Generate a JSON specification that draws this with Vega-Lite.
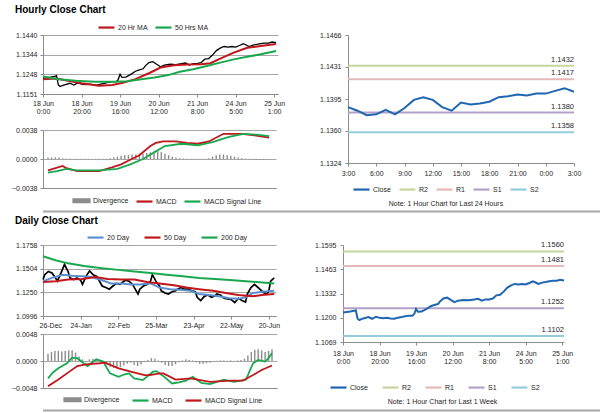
{
"$schema": "https://vega.github.io/schema/vega-lite/v6.json",
"padding": {"left": 0, "top": 5, "right": 5, "bottom": 0},
"config": {
  "font": "Liberation Sans",
  "view": {"stroke": null},
  "axis": {"labelFontSize": 7, "labelColor": "#262626", "domainColor": "#8c8c8c", "tickColor": "#8c8c8c", "tickSize": 3, "labelPadding": 2, "gridColor": "#a6a6a6", "labelFlush": false, "labelOverlap": false, "tickCount": 30},
  "legend": {"orient": "none", "direction": "horizontal", "labelFontSize": 7, "labelColor": "#262626", "symbolType": "stroke", "symbolSize": 256, "symbolStrokeWidth": 2.2, "columnPadding": 8, "labelOffset": 2, "padding": 0},
  "title": {"font": "Liberation Sans", "color": "#000000"}
},
"datasets": {
  "hclose": [
    {"i":0,"v":1.1229},{"i":2,"v":1.1232},{"i":4,"v":1.1234},{"i":6,"v":1.1238},{"i":7,"v":1.1241},{"i":8,"v":1.1195},{"i":9,"v":1.1188},{"i":10,"v":1.1193},{"i":12,"v":1.1199},{"i":14,"v":1.1204},{"i":16,"v":1.1195},{"i":18,"v":1.1206},{"i":20,"v":1.1200},{"i":22,"v":1.1198},{"i":24,"v":1.1200},{"i":26,"v":1.1197},{"i":28,"v":1.1195},{"i":30,"v":1.1200},{"i":32,"v":1.1204},{"i":34,"v":1.1209},{"i":36,"v":1.1212},{"i":38,"v":1.1212},{"i":39,"v":1.1221},{"i":40,"v":1.1248},{"i":41,"v":1.1233},{"i":43,"v":1.1234},{"i":46,"v":1.1250},{"i":48,"v":1.1263},{"i":50,"v":1.1270},{"i":52,"v":1.1275},{"i":53,"v":1.1288},{"i":55,"v":1.1305},{"i":57,"v":1.1310},{"i":59,"v":1.1297},{"i":61,"v":1.1285},{"i":63,"v":1.1293},{"i":66,"v":1.1297},{"i":69,"v":1.1295},{"i":72,"v":1.1300},{"i":74,"v":1.1303},{"i":76,"v":1.1293},{"i":78,"v":1.1300},{"i":80,"v":1.1300},{"i":82,"v":1.1305},{"i":84,"v":1.1322},{"i":86,"v":1.1325},{"i":88,"v":1.1342},{"i":90,"v":1.1364},{"i":92,"v":1.1376},{"i":94,"v":1.1384},{"i":96,"v":1.1381},{"i":98,"v":1.1384},{"i":100,"v":1.1381},{"i":102,"v":1.1389},{"i":104,"v":1.1398},{"i":106,"v":1.1389},{"i":107,"v":1.1384},{"i":109,"v":1.1391},{"i":111,"v":1.1394},{"i":113,"v":1.1398},{"i":115,"v":1.1401},{"i":117,"v":1.1401},{"i":119,"v":1.1406},{"i":121,"v":1.1403}
  ],
  "hma": [
    {"s":"20 Hr MA","i":0,"v":1.1224},{"s":"20 Hr MA","i":7,"v":1.1227},{"s":"20 Hr MA","i":13,"v":1.1216},{"s":"20 Hr MA","i":20,"v":1.1204},{"s":"20 Hr MA","i":29,"v":1.1192},{"s":"20 Hr MA","i":36,"v":1.1195},{"s":"20 Hr MA","i":42,"v":1.1208},{"s":"20 Hr MA","i":48,"v":1.1224},{"s":"20 Hr MA","i":55,"v":1.1253},{"s":"20 Hr MA","i":61,"v":1.1281},{"s":"20 Hr MA","i":68,"v":1.1292},{"s":"20 Hr MA","i":75,"v":1.1296},{"s":"20 Hr MA","i":82,"v":1.1297},{"s":"20 Hr MA","i":87,"v":1.1302},{"s":"20 Hr MA","i":92,"v":1.1325},{"s":"20 Hr MA","i":99,"v":1.1354},{"s":"20 Hr MA","i":106,"v":1.1378},{"s":"20 Hr MA","i":113,"v":1.1386},{"s":"20 Hr MA","i":121,"v":1.1396},
    {"s":"50 Hrs MA","i":0,"v":1.1237},{"s":"50 Hrs MA","i":8,"v":1.1224},{"s":"50 Hrs MA","i":17,"v":1.1216},{"s":"50 Hrs MA","i":27,"v":1.1211},{"s":"50 Hrs MA","i":37,"v":1.1211},{"s":"50 Hrs MA","i":44,"v":1.1214},{"s":"50 Hrs MA","i":51,"v":1.1224},{"s":"50 Hrs MA","i":58,"v":1.1232},{"s":"50 Hrs MA","i":65,"v":1.1244},{"s":"50 Hrs MA","i":71,"v":1.1260},{"s":"50 Hrs MA","i":78,"v":1.1273},{"s":"50 Hrs MA","i":85,"v":1.1289},{"s":"50 Hrs MA","i":92,"v":1.1305},{"s":"50 Hrs MA","i":99,"v":1.1321},{"s":"50 Hrs MA","i":106,"v":1.1334},{"s":"50 Hrs MA","i":113,"v":1.1346},{"s":"50 Hrs MA","i":121,"v":1.1362}
  ],
  "hmacd": [
    {"s":"MACD","i":0,"v":-0.0015},{"s":"MACD","i":8,"v":-0.0009},{"s":"MACD","i":10,"v":-0.0012},{"s":"MACD","i":16,"v":-0.0016},{"s":"MACD","i":22,"v":-0.0016},{"s":"MACD","i":28,"v":-0.0016},{"s":"MACD","i":35,"v":-0.0011},{"s":"MACD","i":40,"v":-0.0007},{"s":"MACD","i":45,"v":-0.0001},{"s":"MACD","i":50,"v":0.0005},{"s":"MACD","i":56,"v":0.0017},{"s":"MACD","i":59,"v":0.0021},{"s":"MACD","i":63,"v":0.0023},{"s":"MACD","i":70,"v":0.0023},{"s":"MACD","i":76,"v":0.0021},{"s":"MACD","i":82,"v":0.0020},{"s":"MACD","i":88,"v":0.0023},{"s":"MACD","i":96,"v":0.0033},{"s":"MACD","i":106,"v":0.0033},{"s":"MACD","i":113,"v":0.0031},{"s":"MACD","i":121,"v":0.0028},
    {"s":"MACD Signal Line","i":0,"v":-0.0018},{"s":"MACD Signal Line","i":5,"v":-0.0016},{"s":"MACD Signal Line","i":10,"v":-0.0013},{"s":"MACD Signal Line","i":16,"v":-0.0015},{"s":"MACD Signal Line","i":28,"v":-0.0015},{"s":"MACD Signal Line","i":38,"v":-0.0013},{"s":"MACD Signal Line","i":45,"v":-0.0007},{"s":"MACD Signal Line","i":52,"v":0.0000},{"s":"MACD Signal Line","i":59,"v":0.0010},{"s":"MACD Signal Line","i":64,"v":0.0017},{"s":"MACD Signal Line","i":73,"v":0.0020},{"s":"MACD Signal Line","i":82,"v":0.0018},{"s":"MACD Signal Line","i":90,"v":0.0022},{"s":"MACD Signal Line","i":99,"v":0.0029},{"s":"MACD Signal Line","i":107,"v":0.0033},{"s":"MACD Signal Line","i":114,"v":0.0032},{"s":"MACD Signal Line","i":121,"v":0.0030}
  ],
  "hdiv": [
    {"i":0,"v":0.0002},{"i":2,"v":0.0002},{"i":4,"v":0.0002},{"i":6,"v":0.0002},{"i":8,"v":0.0001},{"i":10,"v":0.00005},{"i":12,"v":0.00003},{"i":14,"v":0.00003},{"i":16,"v":0.00003},{"i":18,"v":0.00003},{"i":20,"v":0.00003},{"i":22,"v":0.00003},{"i":24,"v":0.00003},{"i":26,"v":0.00003},{"i":28,"v":0.00003},{"i":30,"v":0.00003},{"i":32,"v":0.00003},{"i":34,"v":0.0001},{"i":36,"v":0.0002},{"i":38,"v":0.0003},{"i":40,"v":0.0004},{"i":42,"v":0.0005},{"i":44,"v":0.0005},{"i":46,"v":0.0006},{"i":48,"v":0.0006},{"i":50,"v":0.0007},{"i":52,"v":0.0007},{"i":54,"v":0.0008},{"i":56,"v":0.0009},{"i":58,"v":0.0010},{"i":60,"v":0.0010},{"i":62,"v":0.0009},{"i":64,"v":0.0007},{"i":66,"v":0.0005},{"i":68,"v":0.0003},{"i":70,"v":0.0002},{"i":72,"v":0.0001},{"i":74,"v":0.00005},{"i":76,"v":0.00003},{"i":78,"v":0.00003},{"i":80,"v":0.00003},{"i":82,"v":0.00003},{"i":84,"v":0.00003},{"i":86,"v":0.00003},{"i":88,"v":0.0001},{"i":90,"v":0.0003},{"i":92,"v":0.0005},{"i":94,"v":0.0006},{"i":96,"v":0.0006},{"i":98,"v":0.0005},{"i":100,"v":0.0004},{"i":102,"v":0.0003},{"i":104,"v":0.0002},{"i":106,"v":0.0001},{"i":108,"v":0.00005},{"i":110,"v":0.00003},{"i":112,"v":-0.00005},{"i":114,"v":-0.0001},{"i":116,"v":-0.0001},{"i":118,"v":-0.0001},{"i":120,"v":-0.0001}
  ],
  "r24": [
    {"h":0,"v":1.1386},{"h":1,"v":1.1382},{"h":2,"v":1.1377},{"h":3,"v":1.1378},{"h":4,"v":1.1383},{"h":5,"v":1.1378},{"h":6,"v":1.1385},{"h":7,"v":1.1394},{"h":8,"v":1.1397},{"h":9,"v":1.1394},{"h":10,"v":1.1386},{"h":11,"v":1.1382},{"h":12,"v":1.1391},{"h":13,"v":1.1389},{"h":14,"v":1.1390},{"h":15,"v":1.1392},{"h":16,"v":1.1397},{"h":17,"v":1.1398},{"h":18,"v":1.1400},{"h":19,"v":1.1399},{"h":20,"v":1.1401},{"h":21,"v":1.1401},{"h":22,"v":1.1404},{"h":23,"v":1.1407},{"h":24,"v":1.1403}
  ],
  "lv24": [
    {"s":"R2","v":1.1432},{"s":"R1","v":1.1417},{"s":"S1","v":1.1380},{"s":"S2","v":1.1358}
  ],
  "lvw": [
    {"s":"R2","v":1.1560},{"s":"R1","v":1.1481},{"s":"S1","v":1.1252},{"s":"S2","v":1.1102}
  ],
  "dclose": [
    {"i":0,"v":1.1388},{"i":1,"v":1.1439},{"i":3,"v":1.1474},{"i":5,"v":1.1457},{"i":7,"v":1.1405},{"i":8,"v":1.1370},{"i":10,"v":1.1457},{"i":12,"v":1.1550},{"i":13,"v":1.1509},{"i":14,"v":1.1474},{"i":15,"v":1.1405},{"i":17,"v":1.1388},{"i":19,"v":1.1405},{"i":21,"v":1.1380},{"i":22,"v":1.1335},{"i":24,"v":1.1422},{"i":26,"v":1.1480},{"i":28,"v":1.1439},{"i":30,"v":1.1422},{"i":32,"v":1.1353},{"i":33,"v":1.1318},{"i":35,"v":1.1301},{"i":37,"v":1.1284},{"i":39,"v":1.1318},{"i":41,"v":1.1346},{"i":43,"v":1.1335},{"i":44,"v":1.1353},{"i":46,"v":1.1380},{"i":48,"v":1.1370},{"i":50,"v":1.1335},{"i":52,"v":1.1266},{"i":53,"v":1.1232},{"i":54,"v":1.1284},{"i":56,"v":1.1318},{"i":58,"v":1.1335},{"i":60,"v":1.1370},{"i":61,"v":1.1440},{"i":63,"v":1.1370},{"i":65,"v":1.1318},{"i":66,"v":1.1266},{"i":68,"v":1.1242},{"i":70,"v":1.1232},{"i":72,"v":1.1256},{"i":74,"v":1.1266},{"i":75,"v":1.1284},{"i":77,"v":1.1301},{"i":79,"v":1.1284},{"i":81,"v":1.1284},{"i":83,"v":1.1266},{"i":85,"v":1.1256},{"i":86,"v":1.1197},{"i":88,"v":1.1162},{"i":90,"v":1.1207},{"i":92,"v":1.1221},{"i":94,"v":1.1197},{"i":96,"v":1.1214},{"i":97,"v":1.1232},{"i":99,"v":1.1221},{"i":101,"v":1.1186},{"i":103,"v":1.1180},{"i":105,"v":1.1173},{"i":107,"v":1.1140},{"i":108,"v":1.1162},{"i":109,"v":1.1186},{"i":111,"v":1.1162},{"i":113,"v":1.1145},{"i":114,"v":1.1232},{"i":116,"v":1.1301},{"i":118,"v":1.1335},{"i":119,"v":1.1318},{"i":121,"v":1.1284},{"i":123,"v":1.1249},{"i":125,"v":1.1232},{"i":126,"v":1.1266},{"i":127,"v":1.1370},{"i":129,"v":1.1405}
  ],
  "dma": [
    {"s":"20 Day","i":0,"v":1.1370},{"s":"20 Day","i":5,"v":1.1405},{"s":"20 Day","i":11,"v":1.1439},{"s":"20 Day","i":16,"v":1.1429},{"s":"20 Day","i":22,"v":1.1422},{"s":"20 Day","i":27,"v":1.1415},{"s":"20 Day","i":33,"v":1.1380},{"s":"20 Day","i":38,"v":1.1346},{"s":"20 Day","i":44,"v":1.1346},{"s":"20 Day","i":49,"v":1.1335},{"s":"20 Day","i":54,"v":1.1335},{"s":"20 Day","i":60,"v":1.1346},{"s":"20 Day","i":65,"v":1.1301},{"s":"20 Day","i":71,"v":1.1284},{"s":"20 Day","i":76,"v":1.1277},{"s":"20 Day","i":82,"v":1.1266},{"s":"20 Day","i":87,"v":1.1232},{"s":"20 Day","i":93,"v":1.1221},{"s":"20 Day","i":98,"v":1.1207},{"s":"20 Day","i":104,"v":1.1186},{"s":"20 Day","i":109,"v":1.1180},{"s":"20 Day","i":113,"v":1.1197},{"s":"20 Day","i":117,"v":1.1242},{"s":"20 Day","i":122,"v":1.1256},{"s":"20 Day","i":129,"v":1.1266},
    {"s":"50 Day","i":0,"v":1.1360},{"s":"50 Day","i":7,"v":1.1370},{"s":"50 Day","i":14,"v":1.1388},{"s":"50 Day","i":22,"v":1.1394},{"s":"50 Day","i":29,"v":1.1415},{"s":"50 Day","i":36,"v":1.1394},{"s":"50 Day","i":44,"v":1.1388},{"s":"50 Day","i":51,"v":1.1388},{"s":"50 Day","i":58,"v":1.1360},{"s":"50 Day","i":65,"v":1.1346},{"s":"50 Day","i":73,"v":1.1325},{"s":"50 Day","i":80,"v":1.1301},{"s":"50 Day","i":87,"v":1.1284},{"s":"50 Day","i":95,"v":1.1266},{"s":"50 Day","i":102,"v":1.1242},{"s":"50 Day","i":109,"v":1.1221},{"s":"50 Day","i":117,"v":1.1207},{"s":"50 Day","i":122,"v":1.1221},{"s":"50 Day","i":129,"v":1.1232},
    {"s":"200 Day","i":0,"v":1.1637},{"s":"200 Day","i":7,"v":1.1595},{"s":"200 Day","i":14,"v":1.1561},{"s":"200 Day","i":23,"v":1.1533},{"s":"200 Day","i":33,"v":1.1509},{"s":"200 Day","i":42,"v":1.1491},{"s":"200 Day","i":51,"v":1.1474},{"s":"200 Day","i":60,"v":1.1457},{"s":"200 Day","i":69,"v":1.1439},{"s":"200 Day","i":78,"v":1.1422},{"s":"200 Day","i":87,"v":1.1405},{"s":"200 Day","i":96,"v":1.1394},{"s":"200 Day","i":106,"v":1.1380},{"s":"200 Day","i":115,"v":1.1367},{"s":"200 Day","i":124,"v":1.1353},{"s":"200 Day","i":129,"v":1.1346}
  ],
  "dmacd": [
    {"s":"MACD","i":0,"v":-0.0031},{"s":"MACD","i":3,"v":-0.0020},{"s":"MACD","i":6,"v":-0.0013},{"s":"MACD","i":11,"v":-0.0004},{"s":"MACD","i":14,"v":0.0006},{"s":"MACD","i":17,"v":0.0005},{"s":"MACD","i":21,"v":-0.0005},{"s":"MACD","i":23,"v":-0.0009},{"s":"MACD","i":28,"v":0.0003},{"s":"MACD","i":32,"v":-0.0001},{"s":"MACD","i":36,"v":-0.0022},{"s":"MACD","i":41,"v":-0.0028},{"s":"MACD","i":44,"v":-0.0024},{"s":"MACD","i":47,"v":-0.0022},{"s":"MACD","i":50,"v":-0.0031},{"s":"MACD","i":55,"v":-0.0034},{"s":"MACD","i":59,"v":-0.0024},{"s":"MACD","i":61,"v":-0.0019},{"s":"MACD","i":63,"v":-0.0018},{"s":"MACD","i":67,"v":-0.0027},{"s":"MACD","i":72,"v":-0.0040},{"s":"MACD","i":76,"v":-0.0038},{"s":"MACD","i":80,"v":-0.0035},{"s":"MACD","i":84,"v":-0.0028},{"s":"MACD","i":89,"v":-0.0039},{"s":"MACD","i":94,"v":-0.0041},{"s":"MACD","i":98,"v":-0.0037},{"s":"MACD","i":102,"v":-0.0033},{"s":"MACD","i":108,"v":-0.0037},{"s":"MACD","i":112,"v":-0.0035},{"s":"MACD","i":115,"v":-0.0033},{"s":"MACD","i":117,"v":-0.0018},{"s":"MACD","i":119,"v":-0.0004},{"s":"MACD","i":122,"v":0.0002},{"s":"MACD","i":126,"v":-0.0001},{"s":"MACD","i":128,"v":0.0005},{"s":"MACD","i":130,"v":0.0014},
    {"s":"MACD Signal Line","i":0,"v":-0.0045},{"s":"MACD Signal Line","i":6,"v":-0.0033},{"s":"MACD Signal Line","i":11,"v":-0.0022},{"s":"MACD Signal Line","i":17,"v":-0.0009},{"s":"MACD Signal Line","i":22,"v":-0.0006},{"s":"MACD Signal Line","i":30,"v":-0.0004},{"s":"MACD Signal Line","i":33,"v":-0.0003},{"s":"MACD Signal Line","i":41,"v":-0.0013},{"s":"MACD Signal Line","i":48,"v":-0.0019},{"s":"MACD Signal Line","i":56,"v":-0.0025},{"s":"MACD Signal Line","i":59,"v":-0.0025},{"s":"MACD Signal Line","i":65,"v":-0.0022},{"s":"MACD Signal Line","i":67,"v":-0.0022},{"s":"MACD Signal Line","i":74,"v":-0.0033},{"s":"MACD Signal Line","i":83,"v":-0.0031},{"s":"MACD Signal Line","i":94,"v":-0.0037},{"s":"MACD Signal Line","i":106,"v":-0.0035},{"s":"MACD Signal Line","i":113,"v":-0.0035},{"s":"MACD Signal Line","i":119,"v":-0.0025},{"s":"MACD Signal Line","i":124,"v":-0.0016},{"s":"MACD Signal Line","i":130,"v":-0.0008}
  ],
  "ddiv": [
    {"i":0,"v":0.0013},{"i":2,"v":0.0016},{"i":4,"v":0.0018},{"i":6,"v":0.0018},{"i":8,"v":0.0017},{"i":10,"v":0.0018},{"i":12,"v":0.0019},{"i":14,"v":0.0019},{"i":16,"v":0.0015},{"i":18,"v":0.0008},{"i":20,"v":0.0003},{"i":22,"v":-0.0002},{"i":24,"v":0.0003},{"i":26,"v":0.0004},{"i":28,"v":0.0003},{"i":30,"v":0.00003},{"i":32,"v":-0.0003},{"i":34,"v":-0.0006},{"i":36,"v":-0.0010},{"i":38,"v":-0.0012},{"i":40,"v":-0.0013},{"i":42,"v":-0.0011},{"i":44,"v":-0.0008},{"i":46,"v":-0.0005},{"i":48,"v":-0.0003},{"i":50,"v":-0.0007},{"i":52,"v":-0.0009},{"i":54,"v":-0.0006},{"i":56,"v":-0.0002},{"i":58,"v":0.0002},{"i":60,"v":0.0005},{"i":62,"v":0.0004},{"i":64,"v":0.0001},{"i":66,"v":-0.0003},{"i":68,"v":-0.0007},{"i":70,"v":-0.0009},{"i":72,"v":-0.0009},{"i":74,"v":-0.0006},{"i":76,"v":-0.0002},{"i":78,"v":0.0001},{"i":80,"v":0.0003},{"i":82,"v":0.0002},{"i":84,"v":0.0001},{"i":86,"v":-0.0002},{"i":88,"v":-0.0005},{"i":90,"v":-0.0005},{"i":92,"v":-0.0004},{"i":94,"v":-0.0003},{"i":96,"v":-0.0001},{"i":98,"v":0.00005},{"i":100,"v":0.0001},{"i":102,"v":0.0001},{"i":104,"v":0.00005},{"i":106,"v":0.0001},{"i":108,"v":0.00003},{"i":110,"v":0.0001},{"i":112,"v":0.0002},{"i":114,"v":0.0004},{"i":116,"v":0.0010},{"i":118,"v":0.0016},{"i":120,"v":0.0020},{"i":122,"v":0.0021},{"i":124,"v":0.0019},{"i":126,"v":0.0016},{"i":128,"v":0.0018},{"i":130,"v":0.0021}
  ],
  "sep": [{"k":"line"}]
},
"spacing": 3,
"resolve": {"scale": {"color": "independent"}, "legend": {"color": "independent"}},
"vconcat": [
  {
    "title": {"text": "Hourly Close Chart", "anchor": "start", "dx": 15, "fontSize": 10, "fontWeight": "bold", "offset": 3},
    "spacing": 33,
    "resolve": {"scale": {"color": "independent"}, "legend": {"color": "independent"}},
    "hconcat": [
      {
        "spacing": 12,
        "resolve": {"scale": {"color": "independent"}, "legend": {"color": "independent"}},
        "vconcat": [
          {
            "width": 235, "height": 59,
            "layer": [
              {"data": {"name": "hclose"}, "mark": {"type": "line", "color": "#000000", "strokeWidth": 1.3},
               "encoding": {
                 "x": {"field": "i", "type": "quantitative", "scale": {"domain": [0, 122], "nice": false, "zero": false},
                       "axis": {"title": null, "values": [0,20,40,60,80,100,120], "tickCount": 30, "labelExpr": "[['18 Jun','0:00'],['18 Jun','20:00'],['19 Jun','16:00'],['20 Jun','12:00'],['21 Jun','8:00'],['24 Jun','5:00'],['25 Jun','1:00']][round(datum.value/20)]", "labelLineHeight": 8, "grid": false, "labelOverlap": false}},
                 "y": {"field": "v", "type": "quantitative", "scale": {"domain": [1.11514, 1.14404], "nice": false, "zero": false},
                       "axis": {"title": null, "values": [1.11514,1.12477,1.13441,1.14404], "tickCount": 30, "format": ".4f", "grid": true, "minExtent": 41, "labelPadding": 3, "labelOverlap": false}}}},
              {"data": {"name": "hma"}, "mark": {"type": "line", "strokeWidth": 2},
               "encoding": {
                 "x": {"field": "i", "type": "quantitative"},
                 "y": {"field": "v", "type": "quantitative"},
                 "color": {"field": "s", "type": "nominal", "scale": {"domain": ["20 Hr MA","50 Hrs MA"], "range": ["#c0161c","#1aa84f"]},
                           "legend": {"title": null, "orient": "none", "legendX": 54, "legendY": -17, "columnPadding": 3}}}}
            ]
          },
          {
            "width": 233, "height": 58,
            "layer": [
              {"data": {"name": "hdiv"}, "mark": {"type": "bar", "size": 1.4, "color": "#8c8c8c"},
               "encoding": {
                 "x": {"field": "i", "type": "quantitative", "scale": {"domain": [0, 122], "nice": false, "zero": false},
                       "axis": {"title": null, "labels": false, "ticks": false, "grid": false}},
                 "y": {"field": "v", "type": "quantitative", "scale": {"domain": [-0.0038, 0.0038], "nice": false},
                       "axis": {"title": null, "values": [-0.0038, 0, 0.0038], "tickCount": 30, "format": ".4f", "grid": true, "minExtent": 43, "labelPadding": 3, "labelOverlap": false}}}},
              {"data": {"name": "hmacd"}, "mark": {"type": "line", "strokeWidth": 1.8},
               "encoding": {
                 "x": {"field": "i", "type": "quantitative"},
                 "y": {"field": "v", "type": "quantitative"},
                 "color": {"field": "s", "type": "nominal", "scale": {"domain": ["Divergence","MACD","MACD Signal Line"], "range": ["#8c8c8c","#c0161c","#1aa84f"]},
                           "legend": {"title": null, "orient": "none", "legendX": 29, "legendY": 61, "columnPadding": 3,
                                      "encode": {"symbols": {"update": {"shape": {"signal": "datum.label === 'Divergence' ? 'M-1,-0.18H1V0.18H-1Z' : 'stroke'"}, "fill": {"signal": "datum.label === 'Divergence' ? '#8c8c8c' : 'transparent'"}}}}}}}}
            ]
          }
        ]
      },
      {
        "width": 226, "height": 128,
        "title": {"text": "Note: 1 Hour Chart for Last 24 Hours", "orient": "bottom", "anchor": "middle", "frame": "group", "fontSize": 7, "fontWeight": "normal", "color": "#262626", "offset": 6, "dx": -15},
        "layer": [
          {"data": {"name": "lv24"}, "mark": {"type": "rule", "strokeWidth": 2},
           "encoding": {
             "y": {"field": "v", "type": "quantitative", "scale": {"domain": [1.1324, 1.1466], "nice": false, "zero": false},
                   "axis": {"title": null, "values": [1.1324,1.13596,1.1395,1.14306,1.1466], "tickCount": 30, "format": ".4f", "grid": false, "minExtent": 30, "labelPadding": 4, "labelOverlap": false}},
             "color": {"field": "s", "type": "nominal", "scale": {"domain": ["Close","R2","R1","S1","S2"], "range": ["#1f66b0","#c3d69b","#e6b9b8","#b3a2c7","#93cddd"]},
                       "legend": {"title": null, "orient": "none", "legendX": 4, "legendY": 145, "columnPadding": 4}}}},
          {"data": {"name": "lv24"}, "mark": {"type": "text", "align": "right", "baseline": "bottom", "dy": -2, "fontSize": 7.5, "color": "#262626"},
           "encoding": {
             "x": {"datum": 24, "type": "quantitative"},
             "y": {"field": "v", "type": "quantitative"},
             "text": {"field": "v", "type": "quantitative", "format": ".4f"}}},
          {"data": {"name": "r24"}, "mark": {"type": "line", "strokeWidth": 2},
           "encoding": {
             "x": {"field": "h", "type": "quantitative", "scale": {"domain": [0, 24], "nice": false, "zero": false},
                   "axis": {"title": null, "values": [0,3,6,9,12,15,18,21,24], "tickCount": 30, "labelExpr": "['3:00','6:00','9:00','12:00','15:00','18:00','21:00','0:00','3:00'][round(datum.value/3)]", "grid": false, "labelPadding": 3, "labelOverlap": false}},
             "y": {"field": "v", "type": "quantitative"},
             "color": {"datum": "Close", "type": "nominal"}}}
        ]
      }
    ]
  },
  {
    "width": 590, "height": 1,
    "data": {"name": "sep"},
    "mark": {"type": "rule", "color": "#a6a6a6", "strokeWidth": 2},
    "encoding": {"y": {"field": "k", "type": "nominal", "axis": null}}
  },
  {
    "title": {"text": "Daily Close Chart", "anchor": "start", "dx": 15, "fontSize": 10, "fontWeight": "bold", "offset": 2},
    "spacing": 33,
    "resolve": {"scale": {"color": "independent"}, "legend": {"color": "independent"}},
    "hconcat": [
      {
        "spacing": 2,
        "resolve": {"scale": {"color": "independent"}, "legend": {"color": "independent"}},
        "vconcat": [
          {
            "width": 233, "height": 71,
            "layer": [
              {"data": {"name": "dclose"}, "mark": {"type": "line", "color": "#000000", "strokeWidth": 1.7},
               "encoding": {
                 "x": {"field": "i", "type": "quantitative", "scale": {"domain": [0, 130], "nice": false, "zero": false},
                       "axis": {"title": null, "values": [0,21,42,63,84,105,126], "tickCount": 30, "labelExpr": "['26-Dec','24-Jan','22-Feb','25-Mar','23-Apr','22-May','20-Jun'][round(datum.value/21)]", "grid": false, "labelFlush": true, "labelFlushOffset": 4, "labelOverlap": false}},
                 "y": {"field": "v", "type": "quantitative", "scale": {"domain": [1.0996, 1.1758], "nice": false, "zero": false},
                       "axis": {"title": null, "values": [1.0996,1.125,1.1504,1.1758], "tickCount": 30, "format": ".4f", "grid": true, "minExtent": 43, "labelPadding": 3, "labelOverlap": false}}}},
              {"data": {"name": "dma"}, "mark": {"type": "line", "strokeWidth": 2},
               "encoding": {
                 "x": {"field": "i", "type": "quantitative"},
                 "y": {"field": "v", "type": "quantitative"},
                 "color": {"field": "s", "type": "nominal", "scale": {"domain": ["20 Day","50 Day","200 Day"], "range": ["#5b8fd0","#c0161c","#1aa84f"]},
                           "legend": {"title": null, "orient": "none", "legendX": 43, "legendY": -17, "columnPadding": 10}}}}
            ]
          },
          {
            "width": 234, "height": 54,
            "layer": [
              {"data": {"name": "ddiv"}, "mark": {"type": "bar", "size": 1.4, "color": "#8c8c8c"},
               "encoding": {
                 "x": {"field": "i", "type": "quantitative", "scale": {"domain": [0, 130], "nice": false, "zero": false},
                       "axis": {"title": null, "labels": false, "ticks": false, "grid": false}},
                 "y": {"field": "v", "type": "quantitative", "scale": {"domain": [-0.0048, 0.0048], "nice": false},
                       "axis": {"title": null, "values": [-0.0048, 0, 0.0048], "tickCount": 30, "format": ".4f", "grid": true, "minExtent": 43, "labelPadding": 3, "labelOverlap": false}}}},
              {"data": {"name": "dmacd"}, "mark": {"type": "line", "strokeWidth": 1.8},
               "encoding": {
                 "x": {"field": "i", "type": "quantitative"},
                 "y": {"field": "v", "type": "quantitative"},
                 "color": {"field": "s", "type": "nominal", "scale": {"domain": ["Divergence","MACD","MACD Signal Line"], "range": ["#8c8c8c","#1aa84f","#c0161c"]},
                           "legend": {"title": null, "orient": "none", "legendX": 20, "legendY": 56, "columnPadding": 8,
                                      "encode": {"symbols": {"update": {"shape": {"signal": "datum.label === 'Divergence' ? 'M-1,-0.18H1V0.18H-1Z' : 'stroke'"}, "fill": {"signal": "datum.label === 'Divergence' ? '#8c8c8c' : 'transparent'"}}}}}}}}
            ]
          }
        ]
      },
      {
        "width": 221, "height": 97,
        "title": {"text": "Note: 1 Hour Chart for Last 1 Week", "orient": "bottom", "anchor": "middle", "frame": "group", "fontSize": 7, "fontWeight": "normal", "color": "#262626", "offset": 6, "dx": -11},
        "layer": [
          {"data": {"name": "lvw"}, "mark": {"type": "rule", "strokeWidth": 2},
           "encoding": {
             "y": {"field": "v", "type": "quantitative", "scale": {"domain": [1.1069, 1.1595], "nice": false, "zero": false},
                   "axis": {"title": null, "values": [1.1069,1.12004,1.13319,1.14634,1.1595], "tickCount": 30, "format": ".4f", "grid": false, "minExtent": 30, "labelPadding": 4, "labelOverlap": false}},
             "color": {"field": "s", "type": "nominal", "scale": {"domain": ["Close","R2","R1","S1","S2"], "range": ["#1f66b0","#c3d69b","#e6b9b8","#b3a2c7","#93cddd"]},
                       "legend": {"title": null, "orient": "none", "legendX": -14, "legendY": 133, "columnPadding": 10}}}},
          {"data": {"name": "lvw"}, "mark": {"type": "text", "align": "right", "baseline": "bottom", "dy": -2, "fontSize": 7.5, "color": "#262626"},
           "encoding": {
             "x": {"datum": 121, "type": "quantitative"},
             "y": {"field": "v", "type": "quantitative"},
             "text": {"field": "v", "type": "quantitative", "format": ".4f"}}},
          {"data": {"name": "hclose"}, "mark": {"type": "line", "strokeWidth": 2},
           "encoding": {
             "x": {"field": "i", "type": "quantitative", "scale": {"domain": [0, 121], "nice": false, "zero": false},
                   "axis": {"title": null, "values": [0,20,40,60,80,100,120], "tickCount": 30, "labelExpr": "[['18 Jun','0:00'],['18 Jun','20:00'],['19 Jun','16:00'],['20 Jun','12:00'],['21 Jun','8:00'],['24 Jun','5:00'],['25 Jun','1:00']][round(datum.value/20)]", "labelLineHeight": 8, "grid": false, "labelPadding": 4, "labelOverlap": false}},
             "y": {"field": "v", "type": "quantitative"},
             "color": {"datum": "Close", "type": "nominal"}}}
        ]
      }
    ]
  },
  {
    "width": 590, "height": 1,
    "data": {"name": "sep"},
    "mark": {"type": "rule", "color": "#a6a6a6", "strokeWidth": 2},
    "encoding": {"y": {"field": "k", "type": "nominal", "axis": null}}
  }
]
}
